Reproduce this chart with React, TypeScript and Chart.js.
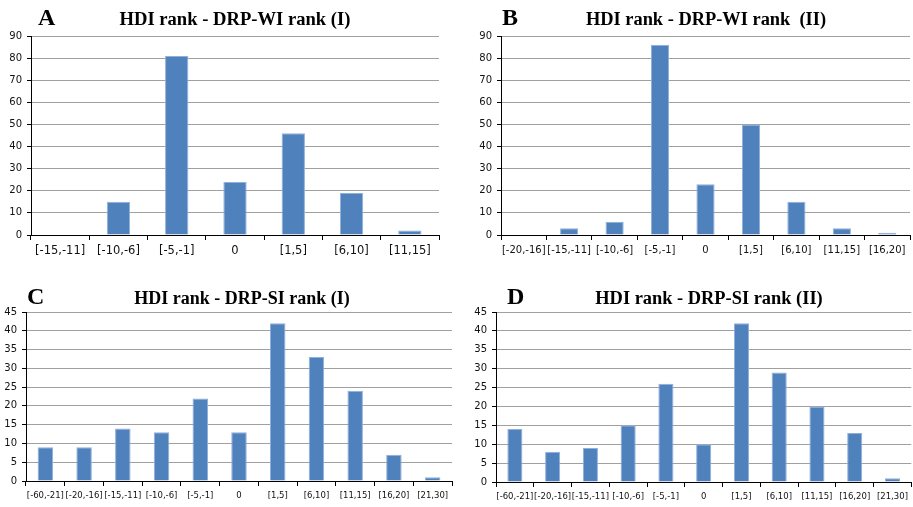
import React, { useEffect, useRef } from "react";
import { Chart, registerables } from "chart.js";

Chart.register(...registerables);

const CAT_A = ["[-15,-11]", "[-10,-6]", "[-5,-1]", "0", "[1,5]", "[6,10]", "[11,15]"];
const VAL_A = [0, 15, 81, 24, 46, 19, 2];

const CAT_B = ["[-20,-16]", "[-15,-11]", "[-10,-6]", "[-5,-1]", "0", "[1,5]", "[6,10]", "[11,15]", "[16,20]"];
const VAL_B = [0, 3, 6, 86, 23, 50, 15, 3, 1];

const CAT_CD = ["[-60,-21]", "[-20,-16]", "[-15,-11]", "[-10,-6]", "[-5,-1]", "0", "[1,5]", "[6,10]", "[11,15]", "[16,20]", "[21,30]"];
const VAL_C = [9, 9, 14, 13, 22, 13, 42, 33, 24, 7, 1];
const VAL_D = [14, 8, 9, 15, 26, 10, 42, 29, 20, 13, 1];

const TITLE_A = "HDI rank - DRP-WI rank (I)";
const TITLE_B = "HDI rank - DRP-WI rank  (II)";
const TITLE_C = "HDI rank - DRP-SI rank (I)";
const TITLE_D = "HDI rank - DRP-SI rank (II)";

type PanelProps = {
  labels: string[];
  values: number[];
  max: number;
  step: number;
  left: number;
  top: number;
  width: number;
  height: number;
  padTop: number;
  padRight: number;
  yWidth: number;
  xHeight: number;
  xFont: number;
  xPad: number;
  letter: string;
  title: string;
  titleSize: number;
  letterX: number;
  titleCX: number;
  baseY: number;
};

function Panel(p: PanelProps) {
  const ref = useRef<HTMLCanvasElement | null>(null);
  useEffect(() => {
    if (!ref.current) return;
    const chart = new Chart(ref.current, {
      type: "bar",
      data: {
        labels: p.labels,
        datasets: [
          {
            data: p.values,
            backgroundColor: "#4f81bd",
            borderColor: "#8fb0da",
            borderWidth: { top: 1, left: 1, right: 1, bottom: 0 },
            borderSkipped: "bottom",
            barPercentage: 0.4,
            categoryPercentage: 1,
          },
        ],
      },
      options: {
        animation: false,
        responsive: false,
        maintainAspectRatio: false,
        devicePixelRatio: 1,
        layout: { padding: { top: p.padTop, right: p.padRight, left: 0, bottom: 0 } },
        plugins: { legend: { display: false }, tooltip: { enabled: false }, title: { display: false } },
        scales: {
          x: {
            type: "category",
            offset: true,
            grid: {
              offset: true,
              drawOnChartArea: false,
              drawTicks: true,
              tickLength: 5,
              tickColor: "#000",
            },
            border: { color: "#000", width: 1 },
            ticks: {
              autoSkip: false,
              maxRotation: 0,
              minRotation: 0,
              padding: p.xPad,
              color: "#111",
              font: { family: "'DejaVu Sans', sans-serif", size: p.xFont },
            },
            afterFit: (s: any) => {
              s.height = p.xHeight;
            },
          },
          y: {
            min: 0,
            max: p.max,
            ticks: {
              stepSize: p.step,
              padding: 5,
              color: "#111",
              font: { family: "'DejaVu Sans', sans-serif", size: 10 },
            },
            grid: { color: "#a0a0a0", lineWidth: 1, tickLength: 4, tickColor: "#000" },
            border: { color: "#000", width: 1 },
            afterFit: (s: any) => {
              s.width = p.yWidth;
            },
          },
        },
      },
    });
    return () => chart.destroy();
  }, []);

  const serif = "'Liberation Serif', 'Times New Roman', serif";
  return (
    <>
      <canvas
        ref={ref}
        width={p.width}
        height={p.height}
        style={{ position: "absolute", left: p.left, top: p.top, width: p.width, height: p.height }}
      />
      <div
        style={{
          position: "absolute",
          left: p.letterX,
          top: p.baseY - 20,
          fontFamily: serif,
          fontWeight: "bold",
          fontSize: 24,
          lineHeight: "24px",
          whiteSpace: "pre",
          color: "#000",
        }}
      >
        {p.letter}
      </div>
      <div
        style={{
          position: "absolute",
          left: p.titleCX - 200,
          width: 400,
          textAlign: "center",
          top: p.baseY - 15,
          fontFamily: serif,
          fontWeight: "bold",
          fontSize: p.titleSize,
          lineHeight: "18px",
          whiteSpace: "pre",
          color: "#000",
        }}
      >
        {p.title}
      </div>
    </>
  );
}

export default function App() {
  return (
    <div style={{ position: "absolute", left: 0, top: 0, width: 913, height: 507, background: "#fff", overflow: "hidden" }}>
      <Panel
        labels={CAT_A}
        values={VAL_A}
        max={90}
        step={10}
        left={0}
        top={0}
        width={456}
        height={262}
        padTop={36}
        padRight={17}
        yWidth={31}
        xHeight={27}
        xFont={11.5}
        xPad={4}
        letter="A"
        title={TITLE_A}
        titleSize={18.6}
        letterX={38}
        titleCX={235}
        baseY={25}
      />
      <Panel
        labels={CAT_B}
        values={VAL_B}
        max={90}
        step={10}
        left={456}
        top={0}
        width={457}
        height={262}
        padTop={36}
        padRight={3}
        yWidth={45}
        xHeight={27}
        xFont={10}
        xPad={4}
        letter="B"
        title={TITLE_B}
        titleSize={18.4}
        letterX={502}
        titleCX={706}
        baseY={25}
      />
      <Panel
        labels={CAT_CD}
        values={VAL_C}
        max={45}
        step={5}
        left={0}
        top={262}
        width={456}
        height={245}
        padTop={50}
        padRight={4}
        yWidth={26}
        xHeight={26}
        xFont={8.5}
        xPad={5}
        letter="C"
        title={TITLE_C}
        titleSize={18}
        letterX={27}
        titleCX={242}
        baseY={304}
      />
      <Panel
        labels={CAT_CD}
        values={VAL_D}
        max={45}
        step={5}
        left={456}
        top={262}
        width={457}
        height={245}
        padTop={50}
        padRight={1}
        yWidth={40}
        xHeight={25}
        xFont={8.5}
        xPad={5}
        letter="D"
        title={TITLE_D}
        titleSize={18.4}
        letterX={507}
        titleCX={709}
        baseY={304}
      />
    </div>
  );
}
